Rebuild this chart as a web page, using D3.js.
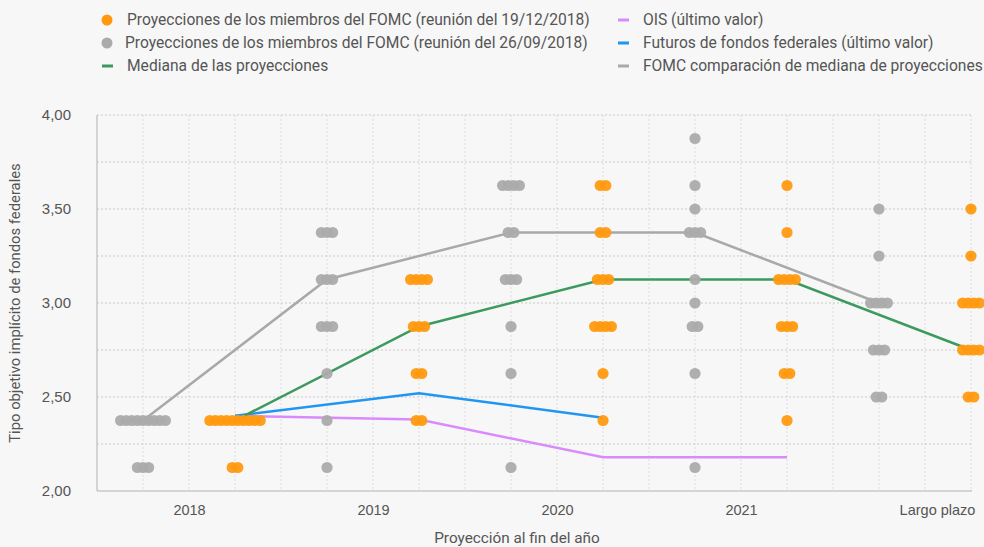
<!DOCTYPE html>
<meta charset="utf-8">
<title>FOMC - proyecciones</title>
<style>
body {
  margin: 0px;
  background-color: #f7f7f7;
}
svg {
  background-color: #f7f7f7;
  font-family: Roboto, sans-serif;
}
.tick text {
  fill: #555;
}
.legend text {
  fill: #555;
  font-size: 15.6px;
}
</style>
<script src="https://d3js.org/d3.v7.min.js"></script>
<body>
<script>
var width = 984, height = 547;
var margin = {top: 115, right: 13, bottom: 56, left: 97};

// categories on the x axis
var categories = ["2018", "2019", "2020", "2021", "Largo plazo"];

// dots: [category index, rate, number of members]
var dotsDic = [
  [0, 2.375, 10], [0, 2.125, 2],
  [1, 3.125, 4], [1, 2.875, 3], [1, 2.625, 2], [1, 2.375, 2],
  [2, 3.625, 2], [2, 3.375, 2], [2, 3.125, 3], [2, 2.875, 4], [2, 2.625, 1], [2, 2.375, 1],
  [3, 3.625, 1], [3, 3.375, 1], [3, 3.125, 4], [3, 2.875, 3], [3, 2.625, 2], [3, 2.375, 1],
  [4, 3.5, 1], [4, 3.25, 1], [4, 3.0, 4], [4, 2.75, 4], [4, 2.5, 2]
];
var dotsSep = [
  [0, 2.375, 9], [0, 2.125, 3],
  [1, 3.375, 3], [1, 3.125, 3], [1, 2.875, 3], [1, 2.625, 1], [1, 2.375, 1], [1, 2.125, 1],
  [2, 3.625, 4], [2, 3.375, 2], [2, 3.125, 3], [2, 2.875, 1], [2, 2.625, 1], [2, 2.125, 1],
  [3, 3.875, 1], [3, 3.625, 1], [3, 3.5, 1], [3, 3.375, 3], [3, 3.125, 1], [3, 3.0, 1], [3, 2.875, 2], [3, 2.625, 1], [3, 2.125, 1],
  [4, 3.5, 1], [4, 3.25, 1], [4, 3.0, 4], [4, 2.75, 3], [4, 2.5, 2]
];

// lines
var medianDic = [2.375, 2.875, 3.125, 3.125, 2.75];
var medianSep = [2.375, 3.125, 3.375, 3.375, 3.0];
var futuros = [2.40, 2.52, 2.39];
var ois = [2.40, 2.38, 2.18, 2.18];

var yTicks = [2.0, 2.5, 3.0, 3.5, 4.0];

var orange = "#ff9a10", grey = "#ababab", green = "#3d9a5e",
    blue = "#2196f0", violet = "#d98bfb", greyLine = "#a9a9a9";

var locale = d3.formatLocale({decimal: ",", thousands: ".", grouping: [3], currency: ["", "€"]});
var fmt = locale.format(".2f");

var svg = d3.select("body").append("svg")
    .attr("width", width)
    .attr("height", height);

// each category takes 4 steps: grey column, label, orange column, gap
var x = d3.scaleLinear().domain([0, 19]).range([margin.left, width - margin.right - 0]);
var y = d3.scaleLinear().domain([2, 4]).range([height - margin.bottom, margin.top]);
var xGrey = function(i) { return x(1 + 4 * i); };
var xOrange = function(i) { return x(3 + 4 * i); };

// grid
var grid = svg.append("g");
grid.selectAll("line.v")
    .data(d3.range(1, 20))
  .enter().append("line")
    .attr("class", "v")
    .attr("x1", function(d) { return x(d); })
    .attr("x2", function(d) { return x(d); })
    .attr("y1", y(4))
    .attr("y2", y(2))
    .style("stroke", "#dcdcdc")
    .style("stroke-dasharray", "2,2");
grid.selectAll("line.h")
    .data(d3.range(2.25, 4.01, 0.25))
  .enter().append("line")
    .attr("class", "h")
    .attr("x1", x(0))
    .attr("x2", x(19))
    .attr("y1", function(d) { return y(d); })
    .attr("y2", function(d) { return y(d); })
    .style("stroke", "#c9c9c9")
    .style("stroke-dasharray", "2,2");

// axes
var yAxis = svg.append("g")
    .attr("transform", "translate(" + margin.left + ",0)")
    .call(d3.axisLeft(y).tickValues(yTicks).tickFormat(fmt).tickSize(0).tickPadding(26));
yAxis.select(".domain").remove();
yAxis.selectAll("text").style("font-size", "15px");

var xAxis = svg.append("g")
    .attr("transform", "translate(0," + y(2) + ")")
    .call(d3.axisBottom(x).tickValues([2, 6, 10, 14, 18])
      .tickFormat(function(d) { return categories[(d - 2) / 4]; })
      .tickSize(0).tickPadding(14));
xAxis.select(".domain").remove();
xAxis.selectAll("text").style("font-size", "14.5px")
    .attr("dx", function(d) { return d == 18 ? 12 : 0; });

svg.append("line")
    .attr("x1", x(0)).attr("x2", x(19) + 1)
    .attr("y1", y(2)).attr("y2", y(2))
    .style("stroke", "#c8c8c8").style("stroke-width", 1.5);
svg.append("line")
    .attr("x1", x(0)).attr("x2", x(0))
    .attr("y1", y(4)).attr("y2", y(2))
    .style("stroke", "#c8c8c8").style("stroke-width", 1.5);

svg.append("text")
    .attr("x", 517)
    .attr("y", 543)
    .attr("text-anchor", "middle")
    .style("font-size", "15.3px")
    .style("fill", "#555")
    .text("Proyección al fin del año");
svg.append("text")
    .attr("transform", "translate(20," + y(3) + ") rotate(-90)")
    .attr("text-anchor", "middle")
    .style("font-size", "14.8px")
    .style("fill", "#555")
    .text("Tipo objetivo implícito de fondos federales");

// lines
var line = d3.line()
    .x(function(d) { return d[0]; })
    .y(function(d) { return y(d[1]); });

function drawLine(vals, xf, color) {
  svg.append("path")
      .datum(vals.map(function(v, i) { return [xf(i), v]; }))
      .attr("d", line)
      .style("fill", "none")
      .style("stroke", color)
      .style("stroke-width", 2.5);
}
drawLine(medianSep, xGrey, greyLine);
drawLine(ois, xOrange, violet);
drawLine(futuros, xOrange, blue);
drawLine(medianDic, xOrange, green);

// dots
var step = 5.6, r = 5.6;
function expand(rows, xf) {
  var out = [];
  rows.forEach(function(d) {
    for (var k = 0; k < d[2]; k++) {
      out.push({x: xf(d[0]) + (k - (d[2] - 1) / 2) * step, v: d[1]});
    }
  });
  return out;
}
svg.append("g").selectAll("circle")
    .data(expand(dotsSep, xGrey))
  .enter().append("circle")
    .attr("cx", function(d) { return d.x; })
    .attr("cy", function(d) { return y(d.v); })
    .attr("r", r)
    .style("fill", grey)
    .style("opacity", 0.95);
svg.append("g").selectAll("circle")
    .data(expand(dotsDic, xOrange))
  .enter().append("circle")
    .attr("cx", function(d) { return d.x; })
    .attr("cy", function(d) { return y(d.v); })
    .attr("r", r)
    .style("fill", orange)
    .style("opacity", 0.95);

// legend
var legendItems = [
  {t: "Proyecciones de los miembros del FOMC (reunión del 19/12/2018)", c: orange, dot: true, x: 107, y: 20},
  {t: "Proyecciones de los miembros del FOMC (reunión del 26/09/2018)", c: grey, dot: true, x: 107, y: 43},
  {t: "Mediana de las proyecciones", c: green, dot: false, x: 107, y: 66},
  {t: "OIS (último valor)", c: violet, dot: false, x: 623, y: 20},
  {t: "Futuros de fondos federales (último valor)", c: blue, dot: false, x: 623, y: 43},
  {t: "FOMC comparación de mediana de proyecciones", c: greyLine, dot: false, x: 623, y: 66}
];
var legend = svg.append("g").attr("class", "legend");
legendItems.forEach(function(d, i) {
  if (d.dot) {
    legend.append("circle").attr("cx", d.x).attr("cy", d.y).attr("r", 5.5).style("fill", d.c);
  } else {
    legend.append("rect").attr("x", d.x - 5).attr("y", d.y - 1.5)
        .attr("width", 11).attr("height", 3).style("fill", d.c);
  }
  legend.append("text")
      .attr("x", d.x + (i == 1 ? 18 : 20))
      .attr("y", d.y + 5)
      .text(d.t);
});
</script>
